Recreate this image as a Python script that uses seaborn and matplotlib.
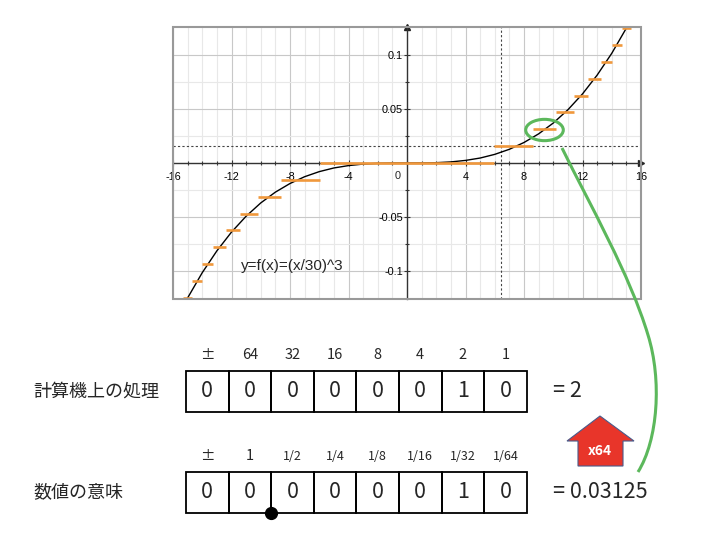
import matplotlib
matplotlib.use('Agg')
import matplotlib.pyplot as plt
import seaborn as sns
from matplotlib.patches import Ellipse, Rectangle, Polygon, PathPatch
from matplotlib.path import Path

# y=f(x)=(x/30)^3 の曲線
curve_x = [-16, -15, -14, -13, -12, -11, -10, -9, -8, -7, -6, -5, -4, -3, -2, -1, 0,
           1, 2, 3, 4, 5, 6, 7, 8, 9, 10, 11, 12, 13, 14, 15, 16]
curve_y = [-0.1517, -0.125, -0.1016, -0.0814, -0.064, -0.0493, -0.037, -0.027, -0.019,
           -0.0127, -0.008, -0.0046, -0.0024, -0.001, -0.0003, -0.00004, 0.0,
           0.00004, 0.0003, 0.001, 0.0024, 0.0046, 0.008, 0.0127, 0.019, 0.027,
           0.037, 0.0493, 0.064, 0.0814, 0.1016, 0.125, 0.1517]

# 1/64 刻みに丸めた値 (オレンジの横線)
step_levels = [-0.125, -0.109375, -0.09375, -0.078125, -0.0625, -0.046875, -0.03125,
               -0.015625, 0.0, 0.015625, 0.03125, 0.046875, 0.0625, 0.078125,
               0.09375, 0.109375, 0.125]
step_edges = [-15.30, -14.68, -14.00, -13.24, -12.38, -11.39, -10.18, -8.59, -5.95,
              5.95, 8.59, 10.18, 11.39, 12.38, 13.24, 14.00, 14.68, 15.30]

x_ticks = [-16, -12, -8, -4, 4, 8, 12, 16]
x_labels = ['-16', '-12', '-8', '-4', '4', '8', '12', '16']
y_ticks = [-0.1, -0.05, 0.05, 0.1]
y_labels = ['-0.1', '-0.05', '0.05', '0.1']
y_minor = [-0.1, -0.075, -0.05, -0.025, 0, 0.025, 0.05, 0.075, 0.1]

# ビット表
int_headers = ['±', '64', '32', '16', '8', '4', '2', '1']
frac_headers = ['±', '1', '1/2', '1/4', '1/8', '1/16', '1/32', '1/64']
int_bits = [0, 0, 0, 0, 0, 0, 1, 0]
frac_bits = [0, 0, 0, 0, 0, 0, 1, 0]

orange = '#f0983c'
green = '#5cb85c'
W, H = 721, 540

sns.set_style('white')
plt.rcParams['font.family'] = ['Liberation Sans', 'Noto Sans CJK JP', 'DejaVu Sans']

fig = plt.figure(figsize=(7.21, 5.40), dpi=100)
ax = fig.add_axes([173 / W, 1 - 299 / H, 468 / W, 272 / H])

sns.lineplot(x=curve_x, y=curve_y, ax=ax, color='black', lw=1.0, zorder=4)
ax.hlines(step_levels, step_edges[:-1], step_edges[1:], color=orange, lw=1.9, zorder=5)
ax.axhline(0.015625, color='#444444', lw=0.8, ls=(0, (2, 2)), zorder=3)
ax.axvline(6.45, color='#444444', lw=0.8, ls=(0, (2, 2)), zorder=3)

ax.set_xlim(-16, 16)
ax.set_ylim(-0.126, 0.126)
ax.set_xticks(x_ticks, x_labels)
ax.set_xticks(range(-16, 17), minor=True)
ax.set_yticks(y_ticks, y_labels)
ax.set_yticks(y_minor, minor=True)
ax.grid(True, which='major', color='#c8c8c8', lw=0.8)
ax.grid(True, which='minor', color='#e8e8e8', lw=0.8)
ax.set_axisbelow(True)

for s in ['top', 'right']:
    ax.spines[s].set_visible(False)
ax.spines['left'].set_position(('data', 0))
ax.spines['bottom'].set_position(('data', 0))
for s in ['left', 'bottom']:
    ax.spines[s].set_color('#333333')
    ax.spines[s].set_linewidth(1.0)
    ax.spines[s].set_zorder(3.5)
ax.tick_params(which='both', direction='inout', bottom=True, left=True,
               colors='#333333', labelcolor='black', labelsize=7.8)
ax.tick_params(axis='x', pad=4)
ax.tick_params(axis='y', pad=0.5)
ax.tick_params(which='major', length=5, width=0.8)
ax.tick_params(which='minor', length=3, width=0.8)
ax.annotate('0', xy=(0, 0), xytext=(-7, -6), textcoords='offset points',
            ha='center', va='top', fontsize=7.8)
ax.set_xlabel('')
ax.set_ylabel('')

# 軸の矢印
ax.plot(1, 0, '>', color='#222222', ms=4, transform=ax.get_yaxis_transform(), clip_on=False)
ax.plot(0, 1, '^', color='#222222', ms=4, transform=ax.get_xaxis_transform(), clip_on=False)
ax.add_patch(Rectangle((0, 0), 1, 1, transform=ax.transAxes, fill=False,
                       ec='#999999', lw=1.5, clip_on=False, zorder=6))
ax.text(-11.37, -0.0954, 'y=f(x)=(x/30)^3', ha='left', va='center', fontsize=11)

# 図全体に重ねる注釈用の軸 (ピクセル座標)
ov = fig.add_axes([0, 0, 1, 1], zorder=10)
ov.set_xlim(0, W)
ov.set_ylim(H, 0)
ov.axis('off')
ov.patch.set_visible(False)

ov.add_patch(Ellipse((544.5, 130), 37.6, 21.3, fill=False, ec=green, lw=2.2))
verts = [(562, 148), (590, 205), (630, 275), (648, 335),
         (662, 380), (658, 440), (638, 472)]
codes = [Path.MOVETO] + [Path.CURVE4] * 6
ov.add_patch(PathPatch(Path(verts, codes), fill=False, ec=green, lw=2.2))

arrow = [(600, 416), (567, 441), (578, 441), (578, 466), (623, 466), (623, 441), (634, 441)]
ov.add_patch(Polygon(arrow, closed=True, fc='#e8352a', ec='#4a5a8a', lw=0.8))
ov.text(600, 451, 'x64', color='white', ha='center', va='center', fontsize=10,
        fontweight='bold', family=['Noto Sans CJK JP'])

jp = ['Noto Sans CJK JP', 'DejaVu Sans']
x0, cw, ch = 186, 42.6, 41.5
rows = [(370.5, int_headers, int_bits, '計算機上の処理', '= 2', 355),
        (471.5, frac_headers, frac_bits, '数値の意味', '= 0.03125', 456)]
for top, headers, bits, name, result, hy in rows:
    for i, (hd, b) in enumerate(zip(headers, bits)):
        cx = x0 + i * cw
        ov.add_patch(Rectangle((cx, top), cw, ch, fill=False, ec='black', lw=1.3))
        ov.text(cx + cw / 2, top + ch / 2, str(b), ha='center', va='center',
                fontsize=15.5, family=jp)
        small = '/' in hd
        ov.text(cx + cw / 2, hy + (1 if small else 0), hd, ha='center', va='center',
                fontsize=9 if small else 10.5, family=jp)
    ov.text(33, top + ch / 2, name, ha='left', va='center', fontsize=13, family=jp)
    ov.text(553, top + ch / 2, result, ha='left', va='center', fontsize=15.5, family=jp)

# 小数点の位置
ov.plot(x0 + 2 * cw, 513, 'o', color='black', ms=8.5)

fig.savefig('out.png', dpi=100)
